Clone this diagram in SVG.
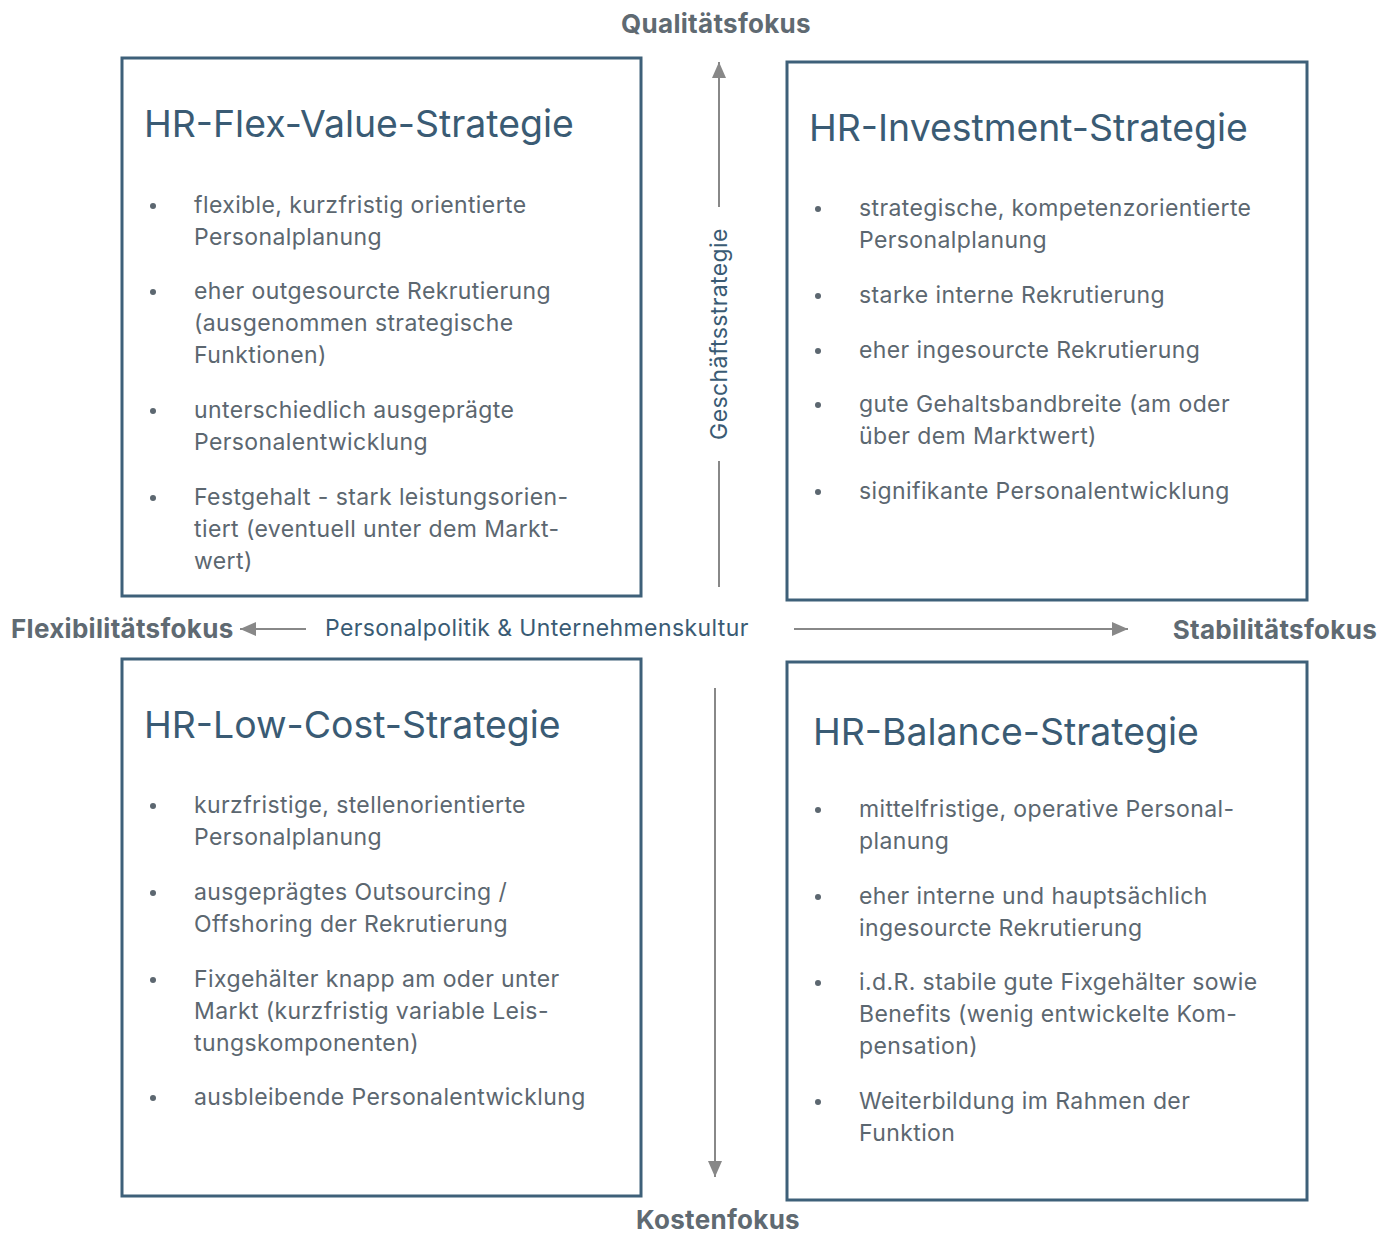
<svg xmlns="http://www.w3.org/2000/svg" width="1394" height="1236" viewBox="0 0 1394 1236">
<defs>
<style>
.box{fill:#fff;stroke:#3e6079;stroke-width:3}
.title{font-family:Inter,"Noto Sans",sans-serif;font-size:37.4px;fill:#3a5b74}
.body{font-family:Inter,"Noto Sans",sans-serif;font-size:23px;letter-spacing:0.4px;fill:#5c6770}
.bul{fill:#5c6770}
.axis{font-family:Inter,"Noto Sans",sans-serif;font-size:26px;letter-spacing:0.3px;font-weight:700;fill:#5f6a72}
.mid{font-family:Inter,"Noto Sans",sans-serif;font-size:23px;letter-spacing:0.4px;fill:#3a5b74}
.ln{stroke:#888;stroke-width:2;fill:none}
</style>
<marker id="ah" markerUnits="userSpaceOnUse" markerWidth="16" markerHeight="16" viewBox="0 0 16 16" refX="16" refY="8" orient="auto">
<path d="M0,1 L16,8 L0,15 Z" fill="#888"/>
</marker>
</defs>
<rect width="1394" height="1236" fill="#fff"/>

<g id="connectors">
<line class="ln" x1="719" y1="587" x2="719" y2="461"/>
<line class="ln" x1="719" y1="207" x2="719" y2="62" marker-end="url(#ah)"/>
<line class="ln" x1="715" y1="688" x2="715" y2="1177" marker-end="url(#ah)"/>
<line class="ln" x1="306" y1="629" x2="240" y2="629" marker-end="url(#ah)"/>
<line class="ln" x1="794" y1="629" x2="1128" y2="629" marker-end="url(#ah)"/>
</g>

<g id="labels">
<text class="axis" x="716" y="33" text-anchor="middle">Qualitätsfokus</text>
<text class="axis" x="11" y="638">Flexibilitätsfokus</text>
<text class="axis" x="1377" y="639" text-anchor="end">Stabilitätsfokus</text>
<text class="axis" x="718" y="1229" text-anchor="middle">Kostenfokus</text>
<text class="mid" x="325" y="636">Personalpolitik &amp; Unternehmenskultur</text>
<text class="mid" x="0" y="0" text-anchor="middle" transform="translate(727,334) rotate(-90)">Geschäftsstrategie</text>
</g>

<g id="flex-value">
<rect class="box" x="122" y="58" width="519" height="538"/>
<text class="title" x="144" y="137">HR-Flex-Value-Strategie</text>
<circle class="bul" cx="153" cy="206" r="3"/>
<circle class="bul" cx="153" cy="292" r="3"/>
<circle class="bul" cx="153" cy="411" r="3"/>
<circle class="bul" cx="153" cy="498" r="3"/>
<text class="body">
<tspan x="194" y="213">flexible, kurzfristig orientierte</tspan>
<tspan x="194" y="245">Personalplanung</tspan>
<tspan x="194" y="299">eher outgesourcte Rekrutierung</tspan>
<tspan x="194" y="331">(ausgenommen strategische</tspan>
<tspan x="194" y="363">Funktionen)</tspan>
<tspan x="194" y="418">unterschiedlich ausgeprägte</tspan>
<tspan x="194" y="450">Personalentwicklung</tspan>
<tspan x="194" y="505">Festgehalt - stark leistungsorien-</tspan>
<tspan x="194" y="537">tiert (eventuell unter dem Markt-</tspan>
<tspan x="194" y="569">wert)</tspan>
</text>
</g>

<g id="investment">
<rect class="box" x="787" y="62" width="520" height="538"/>
<text class="title" x="809" y="141">HR-Investment-Strategie</text>
<circle class="bul" cx="818" cy="209" r="3"/>
<circle class="bul" cx="818" cy="296" r="3"/>
<circle class="bul" cx="818" cy="351" r="3"/>
<circle class="bul" cx="818" cy="405" r="3"/>
<circle class="bul" cx="818" cy="492" r="3"/>
<text class="body">
<tspan x="859" y="216">strategische, kompetenzorientierte</tspan>
<tspan x="859" y="248">Personalplanung</tspan>
<tspan x="859" y="303">starke interne Rekrutierung</tspan>
<tspan x="859" y="358">eher ingesourcte Rekrutierung</tspan>
<tspan x="859" y="412">gute Gehaltsbandbreite (am oder</tspan>
<tspan x="859" y="444">über dem Marktwert)</tspan>
<tspan x="859" y="499">signifikante Personalentwicklung</tspan>
</text>
</g>

<g id="low-cost">
<rect class="box" x="122" y="659" width="519" height="537"/>
<text class="title" x="144" y="738">HR-Low-Cost-Strategie</text>
<circle class="bul" cx="153" cy="806" r="3"/>
<circle class="bul" cx="153" cy="893" r="3"/>
<circle class="bul" cx="153" cy="980" r="3"/>
<circle class="bul" cx="153" cy="1098" r="3"/>
<text class="body">
<tspan x="194" y="813">kurzfristige, stellenorientierte</tspan>
<tspan x="194" y="845">Personalplanung</tspan>
<tspan x="194" y="900">ausgeprägtes Outsourcing /</tspan>
<tspan x="194" y="932">Offshoring der Rekrutierung</tspan>
<tspan x="194" y="987">Fixgehälter knapp am oder unter</tspan>
<tspan x="194" y="1019">Markt (kurzfristig variable Leis-</tspan>
<tspan x="194" y="1051">tungskomponenten)</tspan>
<tspan x="194" y="1105">ausbleibende Personalentwicklung</tspan>
</text>
</g>

<g id="balance">
<rect class="box" x="787" y="662" width="520" height="538"/>
<text class="title" x="813" y="745">HR-Balance-Strategie</text>
<circle class="bul" cx="818" cy="810" r="3"/>
<circle class="bul" cx="818" cy="897" r="3"/>
<circle class="bul" cx="818" cy="983" r="3"/>
<circle class="bul" cx="818" cy="1102" r="3"/>
<text class="body">
<tspan x="859" y="817">mittelfristige, operative Personal-</tspan>
<tspan x="859" y="849">planung</tspan>
<tspan x="859" y="904">eher interne und hauptsächlich</tspan>
<tspan x="859" y="936">ingesourcte Rekrutierung</tspan>
<tspan x="859" y="990">i.d.R. stabile gute Fixgehälter sowie</tspan>
<tspan x="859" y="1022">Benefits (wenig entwickelte Kom-</tspan>
<tspan x="859" y="1054">pensation)</tspan>
<tspan x="859" y="1109">Weiterbildung im Rahmen der</tspan>
<tspan x="859" y="1141">Funktion</tspan>
</text>
</g>
</svg>
